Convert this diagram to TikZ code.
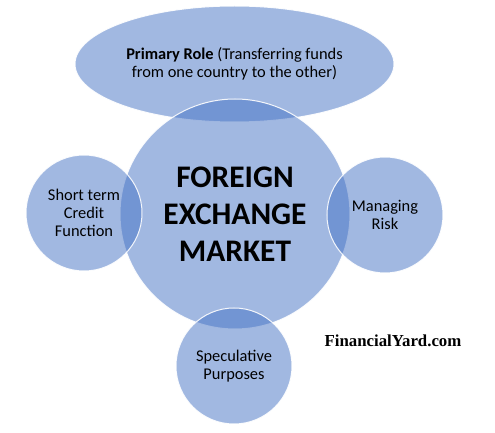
\documentclass[tikz,border=0pt]{standalone}
\usepackage{fontspec}
\setmainfont{Carlito}
\newfontfamily\markfont{Liberation Serif}
\usetikzlibrary{shapes.geometric}
\usepackage{xcolor}
\definecolor{bubcol}{HTML}{4472C4}

\begin{document}
\begin{tikzpicture}[x=0.5pt, y=-0.5pt,
  bub/.style={circle, fill=bubcol, fill opacity=0.5, text opacity=1,
              draw=white, draw opacity=0.9, line width=0.5pt, inner sep=0pt,
              align=center, font=\fontsize{8.2}{8.9}\selectfont},
  small/.style={bub, minimum size=58pt},
  lbl/.style={font=\markfont\bfseries\fontsize{8.4}{10}\selectfont}]
  \useasboundingbox (0,0) rectangle (495,433);
  \node[bub, ellipse, minimum width=159.5pt, minimum height=58pt] (role) at (234.5,64)
    {\textbf{Primary Role} (Transferring funds\\from one country to the other)};
  \node[bub, minimum size=115pt, font=\fontsize{15.7}{18.5}\selectfont\bfseries] (fx) at (235,214)
    {FOREIGN\\EXCHANGE\\MARKET};
  \node[small] (credit) at (84,213) {Short term\\Credit\\Function};
  \node[small] (risk) at (385,215) {Managing\\Risk};
  \node[small] (spec) at (234,366) {Speculative\\Purposes};
  \node[lbl] (site) at (393,341) {FinancialYard.com};
\end{tikzpicture}
\end{document}
